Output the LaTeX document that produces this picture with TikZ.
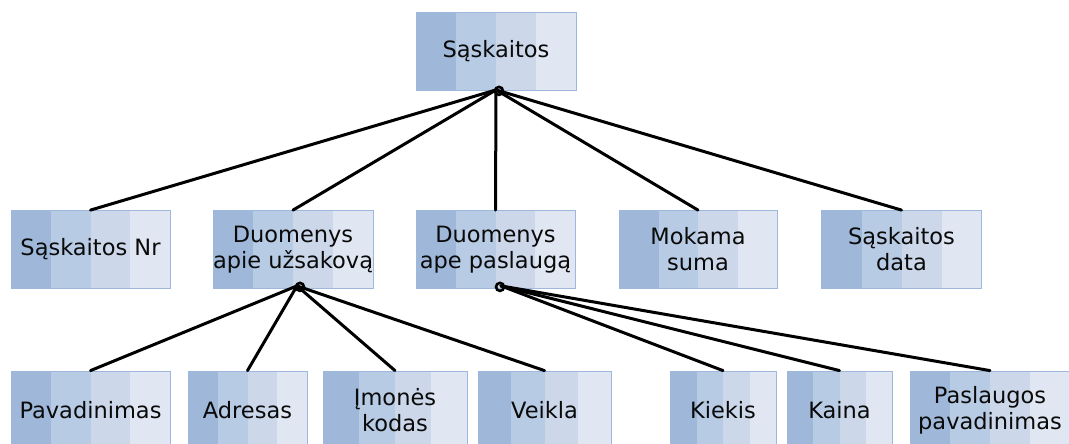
\documentclass[tikz,border=0pt]{standalone}
\usepackage{fontspec}
\setmainfont{DejaVu Sans}
\usetikzlibrary{calc}
\definecolor{sA}{HTML}{9FB8D9}
\definecolor{sB}{HTML}{B7CBE4}
\definecolor{sC}{HTML}{CCD8EA}
\definecolor{sD}{HTML}{E0E7F2}
\definecolor{bd}{HTML}{9DB8DC}
\definecolor{txt}{HTML}{0A0A0A}
\begin{document}
\begin{tikzpicture}[x=1pt,y=-1pt,
  box/.style={rectangle, draw=bd, line width=0.8pt, minimum width=#1, minimum height=78pt,
    inner sep=0pt, align=center, text=txt, font=\fontsize{22.5}{26}\selectfont,
    path picture={
      \fill[sA] let \p1=(path picture bounding box.south west), \p2=(path picture bounding box.north east), \n1={(\x2-\x1)/4} in (\x1,\y1) rectangle ({\x1+\n1*1pt},\y2);
      \fill[sB] let \p1=(path picture bounding box.south west), \p2=(path picture bounding box.north east), \n1={(\x2-\x1)/4} in ({\x1+\n1*1pt},\y1) rectangle ({\x1+\n1*2pt},\y2);
      \fill[sC] let \p1=(path picture bounding box.south west), \p2=(path picture bounding box.north east), \n1={(\x2-\x1)/4} in ({\x1+\n1*2pt},\y1) rectangle ({\x1+\n1*3pt},\y2);
      \fill[sD] let \p1=(path picture bounding box.south west), \p2=(path picture bounding box.north east), \n1={(\x2-\x1)/4} in ({\x1+\n1*3pt},\y1) rectangle (\x2,\y2);
    }},
  box/.default=160pt,
  conn/.style={draw=black, line width=3pt, line cap=round, line join=round},
  loop/.style={draw=black, line width=2.6pt}]
\useasboundingbox (0,0) rectangle (1069,444);

% top
\node[box] (top) at (496,51.5) {Sąskaitos};

% row 2
\node[box=159pt] (n1) at (90.5,249.5) {Sąskaitos Nr};
\node[box] (n2) at (293,249.5) {Duomenys\\apie užsakovą};
\node[box=159pt] (n3) at (495.5,249.5) {Duomenys\\ape paslaugą};
\node[box=158pt] (n4) at (698,249.5) {Mokama\\suma};
\node[box] (n5) at (901.5,249.5) {Sąskaitos\\data};

% row 3
\node[box=159pt] (p1) at (90.5,410) {Pavadinimas};
\node[box=119pt] (p2) at (247.5,410) {Adresas};
\node[box=144pt] (p3) at (395,410) {Įmonės\\kodas};
\node[box=133pt] (p4) at (544.5,410) {Veikla};
\node[box=106pt] (p5) at (723,410) {Kiekis};
\node[box=105pt] (p6) at (839.5,410) {Kaina};
\node[box=160pt] (p7) at (990,410) {Paslaugos\\pavadinimas};

% hubs
\coordinate (h0) at ([yshift=1pt]top.south);
\coordinate (h1) at ([xshift=4pt,yshift=3pt]n2.south);
\coordinate (h2) at ([xshift=5.5pt,yshift=3pt]n3.south);

\foreach \c in {n1,n2,n3,n4,n5} \draw[conn] (h0) -- (\c.north);
\foreach \c in {p1,p2,p3,p4} \draw[conn] (h1) -- (\c.north);
\foreach \c in {p5,p6,p7} \draw[conn] (h2) -- (\c.north);

\draw[loop] ([xshift=3pt,yshift=-1pt]h0) circle (4pt);
\draw[loop] ([xshift=3pt,yshift=-1pt]h1) circle (4pt);
\draw[loop] ([xshift=-1pt,yshift=-1pt]h2) circle (4pt);
\end{tikzpicture}
\end{document}
